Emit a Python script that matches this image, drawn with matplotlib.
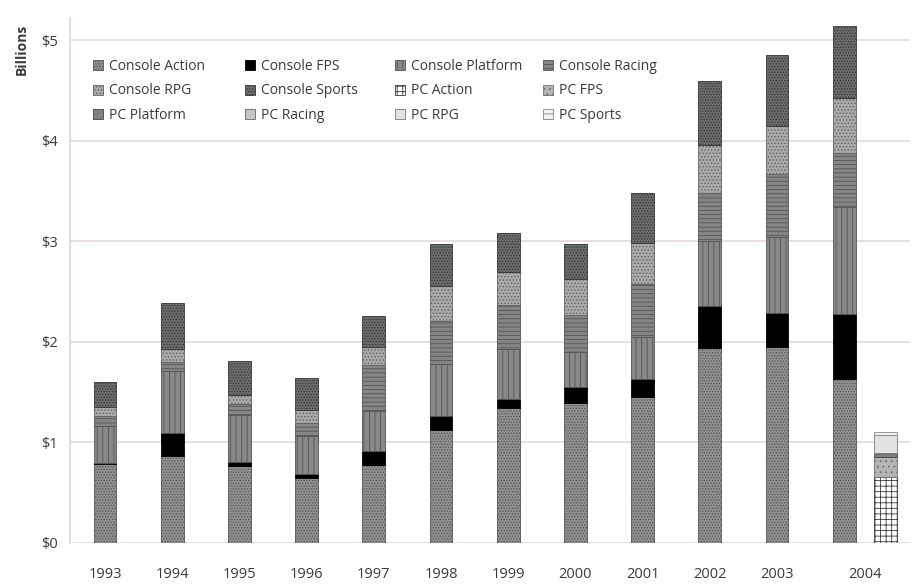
import numpy as np
import matplotlib
matplotlib.use("Agg")
import matplotlib.pyplot as plt

plt.rcParams["font.family"] = ["Open Sans", "DejaVu Sans"]
plt.rcParams["hatch.linewidth"] = 0.6

# --- sales by genre, $ billions ------------------------------------------
years = ["1993", "1994", "1995", "1996", "1997", "1998",
         "1999", "2000", "2001", "2002", "2003", "2004"]

console_action   = [0.79, 0.86, 0.77, 0.65, 0.78, 1.12, 1.34, 1.39, 1.45, 1.94, 1.95, 1.63]
console_fps      = [0.01, 0.23, 0.04, 0.04, 0.13, 0.14, 0.09, 0.16, 0.18, 0.42, 0.34, 0.65]
console_platform = [0.36, 0.62, 0.46, 0.37, 0.40, 0.52, 0.50, 0.35, 0.42, 0.64, 0.75, 1.06]
console_racing   = [0.10, 0.09, 0.11, 0.13, 0.46, 0.43, 0.44, 0.37, 0.52, 0.48, 0.63, 0.54]
console_rpg      = [0.09, 0.13, 0.09, 0.13, 0.18, 0.34, 0.32, 0.35, 0.41, 0.48, 0.48, 0.54]
console_sports   = [0.25, 0.46, 0.34, 0.32, 0.31, 0.42, 0.39, 0.35, 0.50, 0.63, 0.70, 0.72]

# PC titles only tracked for the last year
pc_action   = [0.66]
pc_fps      = [0.19]
pc_platform = [0.03]
pc_racing   = [0.01]
pc_rpg      = [0.18]
pc_sports   = [0.03]

console = [
    ("Console Action",   console_action,   "#909090", "#555555", "......"),
    ("Console FPS",      console_fps,      "#000000", "#000000", None),
    ("Console Platform", console_platform, "#888888", "#555555", "|||"),
    ("Console Racing",   console_racing,   "#858585", "#555555", "----"),
    ("Console RPG",      console_rpg,      "#aaaaaa", "#626262", "....."),
    ("Console Sports",   console_sports,   "#6c6c6c", "#363636", "......"),
]
pc = [
    ("PC Action",   pc_action,   "#ffffff", "#3a3a3a", "+++"),
    ("PC FPS",      pc_fps,      "#b4b4b4", "#707070", "..."),
    ("PC Platform", pc_platform, "#808080", "#444444", None),
    ("PC Racing",   pc_racing,   "#c4c4c4", "#666666", None),
    ("PC RPG",      pc_rpg,      "#e2e2e2", "#777777", None),
    ("PC Sports",   pc_sports,   "#f2f2f2", "#888888", "---"),
]

x = np.arange(len(years))
x_pc = x[-1:] + 0.61
width = 0.34

fig = plt.figure(figsize=(9.14, 5.86), dpi=100)
ax = fig.add_axes([0.0766, 0.0734, 0.919, 0.896])

handles = []
bottom = np.zeros(len(years))
for name, vals, fc, ec, hatch in console:
    b = ax.bar(x, vals, width, bottom=bottom, color=fc, edgecolor=ec,
               hatch=hatch, linewidth=0.6, label=name, zorder=3)
    handles.append(b)
    bottom += np.array(vals)

bottom = np.zeros(1)
for name, vals, fc, ec, hatch in pc:
    b = ax.bar(x_pc, vals, width, bottom=bottom, color=fc, edgecolor=ec,
               hatch=hatch, linewidth=0.6, label=name, zorder=3)
    handles.append(b)
    bottom += np.array(vals)

ax.set_xlim(-0.52, 11.98)
ax.set_ylim(0, 5.22)

ticks = list(x[:-1]) + [(x[-1] + x_pc[0]) / 2]
ax.set_xticks(ticks)
ax.set_xticklabels(years, fontsize=10.5, color="#3a3a3a")
ax.set_yticks(range(6))
ax.set_yticklabels([f"${v}" for v in range(6)], fontsize=10.5, color="#3a3a3a")
ax.tick_params(axis="x", length=0, pad=17)
ax.tick_params(axis="y", length=0, pad=9)

ax.yaxis.grid(True, color="#e4dada", lw=1.2, zorder=0)
for s in ["top", "right", "bottom"]:
    ax.spines[s].set_visible(False)
ax.spines["left"].set_color("#e0d6d6")
ax.spines["left"].set_linewidth(1.2)

fig.text(0.024, 0.916, "Billions", rotation=90, ha="center", va="center",
         fontsize=10, fontweight="bold", color="#3a3a3a")

# legend laid out as 4 equal-width columns, filled row by row
col_x = [93, 245, 395, 543]
for j, cx in enumerate(col_x):
    idx = [j, j + 4, j + 8]
    leg = ax.legend([handles[i] for i in idx],
                    [handles[i].get_label() for i in idx],
                    loc="upper left",
                    bbox_to_anchor=(cx / 914, 1 - 59 / 586),
                    bbox_transform=fig.transFigure,
                    frameon=False, fontsize=10, handlelength=0.75,
                    handleheight=0.75, handletextpad=0.4,
                    labelspacing=0.68, borderpad=0, borderaxespad=0,
                    labelcolor="#3a3a3a")
    if j < len(col_x) - 1:
        ax.add_artist(leg)

fig.savefig("out.png", dpi=100)
